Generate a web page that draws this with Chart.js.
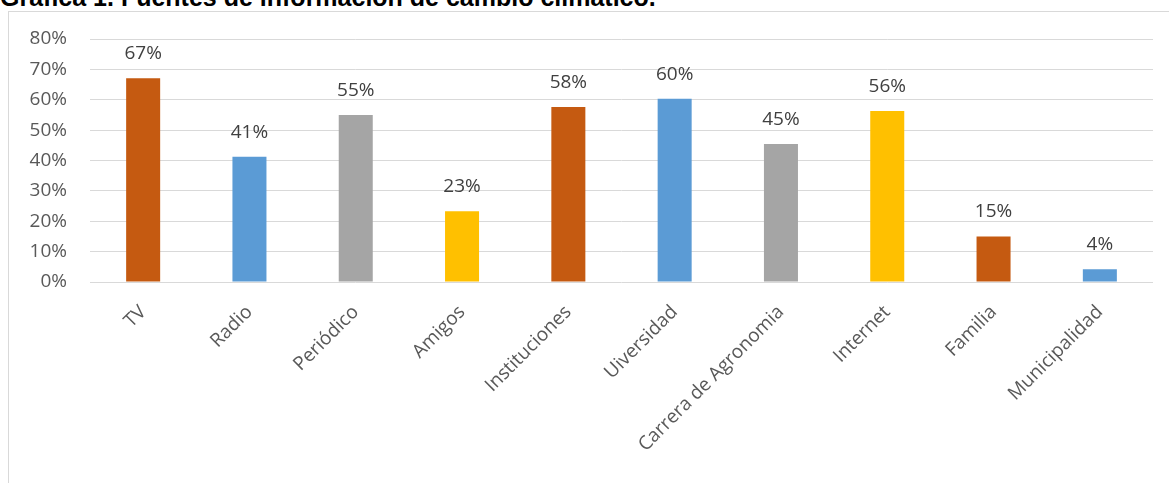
<!DOCTYPE html>
<html lang="es">
<head>
<meta charset="UTF-8">
<script src="https://cdn.jsdelivr.net/npm/chart.js"></script>
<style>
  html, body { margin: 0; padding: 0; background: #fff; overflow: hidden; }
  body { width: 1169px; height: 483px; position: relative; }
  .titulo {
    position: absolute; left: 0; top: -17px;
    font: bold 25px "Liberation Sans", Arial, sans-serif; color: #000;
    white-space: nowrap;
  }
  .marco {
    position: absolute; left: 8px; top: 11px; width: 1200px; height: 500px;
    border: 1px solid #d9d9d9; box-sizing: border-box;
  }
  .chart-container { position: absolute; left: 0; top: 0; width: 1169px; height: 483px; }
</style>
</head>
<body>
<div class="titulo">Gráfica 1. Fuentes de información de cambio climático.</div>
<div class="marco"></div>
<div class="chart-container">
  <canvas id="fuentesChart"></canvas>
</div>

<script>
  const categorias = ['TV', 'Radio', 'Periódico', 'Amigos', 'Instituciones', 'Uiversidad',
    'Carrera de Agronomia', 'Internet', 'Familia', 'Municipalidad'];
  const porcentajes = [67.1, 41.2, 55.0, 23.3, 57.6, 60.3, 45.4, 56.3, 15.0, 4.2];
  const ticksY = [0, 10, 20, 30, 40, 50, 60, 70, 80];

  const colores = ['#C55A11', '#5B9BD5', '#A5A5A5', '#FFC000', '#C55A11',
    '#5B9BD5', '#A5A5A5', '#FFC000', '#C55A11', '#5B9BD5'];

  const fuente = '"Open Sans", "Liberation Sans", sans-serif';

  // etiquetas encima de cada barra
  const etiquetasPlugin = {
    id: 'etiquetas',
    afterDatasetsDraw(chart) {
      const ctx = chart.ctx;
      const meta = chart.getDatasetMeta(0);
      ctx.save();
      ctx.font = '19px ' + fuente;
      ctx.fillStyle = '#404040';
      ctx.textAlign = 'center';
      ctx.textBaseline = 'alphabetic';
      meta.data.forEach(function (bar, i) {
        ctx.fillText(Math.round(porcentajes[i]) + '%', bar.x, bar.y - 19);
      });
      ctx.restore();
    }
  };

  new Chart(document.getElementById('fuentesChart'), {
    type: 'bar',
    data: {
      labels: categorias,
      datasets: [{
        data: porcentajes,
        backgroundColor: colores,
        categoryPercentage: 1,
        barPercentage: 0.32
      }]
    },
    options: {
      responsive: true,
      maintainAspectRatio: false,
      animation: false,
      layout: { padding: { top: 39, right: 16, left: 0, bottom: 0 } },
      plugins: { legend: { display: false }, tooltip: { enabled: false } },
      scales: {
        y: {
          min: 0, max: 80,
          afterBuildTicks(axis) { axis.ticks = ticksY.map(v => ({ value: v })); },
          afterFit(axis) { axis.width = 90; },
          grid: { color: '#d9d9d9', drawTicks: false },
          border: { display: false },
          ticks: {
            padding: 23,
            color: '#595959',
            font: { family: fuente, size: 19 },
            callback: v => v + '%'
          }
        },
        x: {
          afterFit(axis) { axis.height = 201; },
          grid: { display: false },
          border: { display: false },
          ticks: {
            minRotation: 45, maxRotation: 45,
            padding: 11,
            color: '#595959',
            font: { family: fuente, size: 19 }
          }
        }
      }
    },
    plugins: [etiquetasPlugin]
  });
</script>
</body>
</html>
